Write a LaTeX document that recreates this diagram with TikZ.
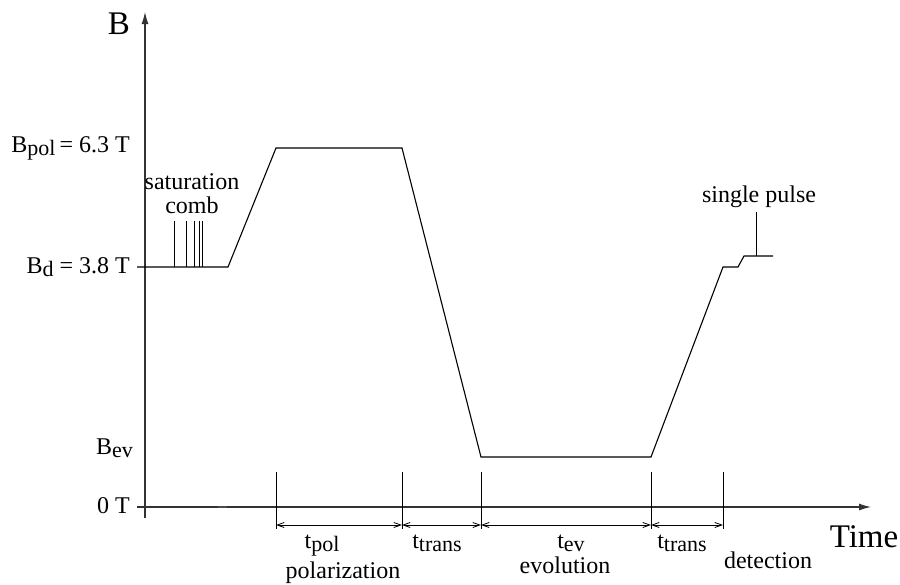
\documentclass[tikz,border=0pt]{standalone}
\usepackage{fontspec}
\setmainfont{Liberation Serif}
\usetikzlibrary{arrows.meta}
\newcommand\lsub[2]{#1\raisebox{-0.3ex}{\fontsize{22}{22}\selectfont #2}}
\begin{document}
\begin{tikzpicture}[x=1pt,y=-1pt,
  axis/.style={line width=1.1pt,draw=black!80,-{Latex[length=12pt,width=7pt]}},
  curve/.style={line width=1.1pt},
  tickln/.style={line width=1pt},
  dimarr/.style={line width=0.8pt,{Straight Barb[length=7pt,width=5pt]}-{Straight Barb[length=7pt,width=5pt]}},
  lbl/.style={font=\fontsize{24}{24}\selectfont,inner sep=0pt},
  biglbl/.style={font=\fontsize{33}{33}\selectfont,inner sep=0pt}]
\useasboundingbox (0,0) rectangle (900,584);
% axes
\coordinate (ybot) at (145,518);
\coordinate (ytop) at (145,12);
\coordinate (xl) at (137,507);
\coordinate (xr) at (871,507);
\draw[axis] (ybot) -- (ytop);
\draw[axis] (xl) -- (xr);
\coordinate (m1) at (218,507);
\coordinate (m2) at (227,507);
\draw[line width=2pt,black!70] (m1) -- (m2);
% field curve
\coordinate (c0) at (137,267);
\coordinate (c1) at (228,267);
\coordinate (c2) at (276,148);
\coordinate (c3) at (402,148);
\coordinate (c4) at (481,457);
\coordinate (c5) at (651,457);
\coordinate (c6) at (723,267);
\coordinate (c7) at (738,267);
\coordinate (c8) at (744,256);
\coordinate (c9) at (773,256);
\draw[curve] (c0) -- (c1) -- (c2) -- (c3) -- (c4) -- (c5) -- (c6) -- (c7) -- (c8) -- (c9);
% saturation comb
\foreach \x [count=\i] in {174,186,194,199,202}{
  \coordinate (p\i a) at (\x,267);
  \coordinate (p\i b) at (\x,221);
  \draw[tickln] (p\i a) -- (p\i b);
}
% single pulse
\coordinate (sp1) at (756,256);
\coordinate (sp2) at (756,212);
\draw[tickln] (sp1) -- (sp2);
% time markers
\foreach \x [count=\i] in {276,402,481,651,723}{
  \coordinate (t\i a) at (\x,472);
  \coordinate (t\i b) at (\x,529);
  \draw[tickln] (t\i a) -- (t\i b);
  \coordinate (d\i) at (\x,525);
}
\draw[dimarr] (d1) -- (d2);
\draw[dimarr] (d2) -- (d3);
\draw[dimarr] (d3) -- (d4);
\draw[dimarr] (d4) -- (d5);
% labels
\node[biglbl,anchor=base] (lB) at (119,34) {B};
\node[lbl,anchor=base east] (lpol) at (130,152) {\lsub{B}{pol}\,= 6.3 T};
\node[lbl,anchor=base east] (ld) at (130,273) {\lsub{B}{d} = 3.8 T};
\node[lbl,anchor=base east] (lev) at (133,454) {\lsub{B}{ev}};
\node[lbl,anchor=base east] (l0) at (130,513) {0 T};
\node[lbl,anchor=base] (lsat) at (192,189) {saturation};
\node[lbl,anchor=base] (lcomb) at (192,213) {comb};
\node[lbl,anchor=base] (lsp) at (759,202) {single pulse};
\node[lbl,anchor=base] (ltpol) at (322,548) {\lsub{t}{pol}};
\node[lbl,anchor=base] (ltt1) at (437,548) {\lsub{t}{trans}};
\node[lbl,anchor=base] (ltev) at (571,548) {\lsub{t}{ev}};
\node[lbl,anchor=base] (ltt2) at (682,548) {\lsub{t}{trans}};
\node[lbl,anchor=base] (lpolz) at (343,578) {polarization};
\node[lbl,anchor=base] (levo) at (565,573) {evolution};
\node[lbl,anchor=base] (ldet) at (768,568) {detection};
\node[biglbl,anchor=base] (ltime) at (864,547) {Time};
\end{tikzpicture}
\end{document}
